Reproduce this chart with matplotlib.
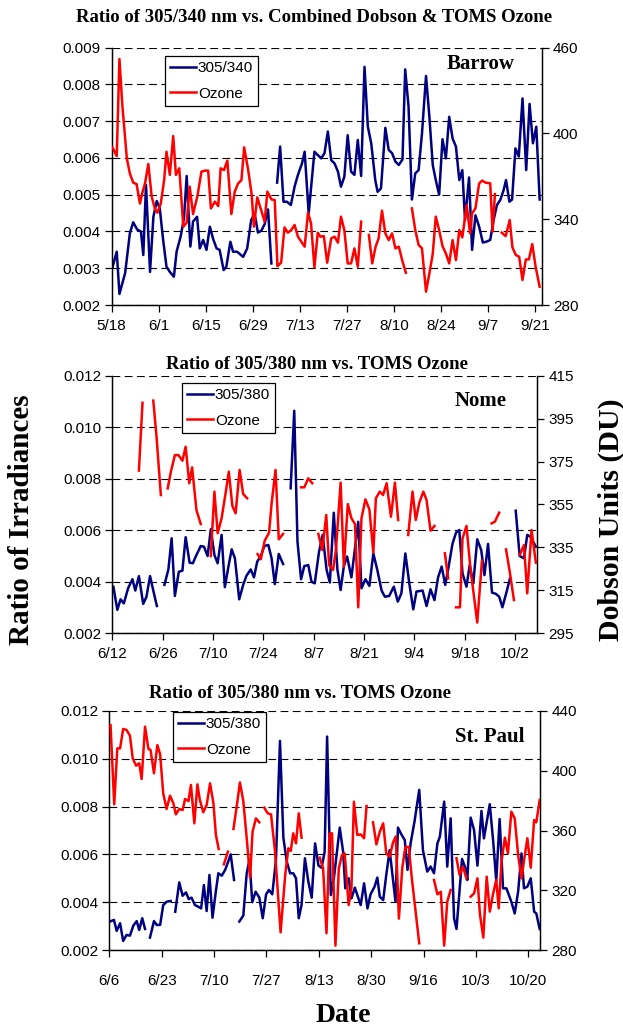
import numpy as np
import matplotlib
matplotlib.use('Agg')
import matplotlib.pyplot as plt

nan = np.nan
SERIF = 'Liberation Serif'
SANS = 'Liberation Sans'
NAVY = '#000080'
RED = '#ff0000'

plt.rcParams['font.family'] = SANS
plt.rcParams['font.size'] = 11

# ---------------- Barrow (days after 5/18) ----------------
barrow_ratio_day = [0.0, 1.5, 2.3, 4.0, 5.4, 6.4, 7.6, 8.7, 9.4, 10.2, 11.4, 12.4, 13.4, 14.3, 15.3, 16.3,
                    17.3, 18.5, 19.3, 20.5, 21.5, 22.3, 23.4, 24.2, 25.4, 26.2, 27.2, 28.2, 29.2, 30.2, 31.2,
                    32.1, 33.3, 34.1, 35.3, 36.1, 37.3, 39.1, 40.3, 41.5, 42.5, 43.5, 44.5, 45.5, 46.5, 47.5,
                    nan,
                    49.2, 50.1, 51.1, 52.1, 53.3, 54.4, 55.4, 56.6, 57.4, 58.6, 60.3, 61.3, 62.3, 63.3, 64.3,
                    65.3, 66.3, 67.3, 68.2, 69.2, 70.2, 71.2, 72.2, 73.2, 74.2, 75.2, 76.2, 77.2, 78.4, 79.1,
                    80.1, 81.4, 82.4, 83.4, 84.4, 85.4, 86.5, 87.3, 88.3, 89.3, 90.3, 91.3, 92.3, 93.5, 94.5,
                    95.5, 96.4, 97.4, 98.4, 99.4, 100.4, 101.4, 102.4, 103.4, 104.3, 105.1, 106.3, 107.2,
                    108.2, 109.3, 110.4, 111.4, 112.6, 113.6, 114.6, 115.6, 116.6, 117.3, 118.3, 119.1,
                    120.1, 121.1, 122.2, 123.3, 124.3, 125.3, 126.3, 127.3]
barrow_ratio = [0.00295, 0.00345, 0.0023, 0.00287, 0.00395, 0.00425, 0.00405, 0.0040, 0.00336, 0.00527,
                0.0029, 0.0044, 0.00483, 0.00463, 0.00377, 0.00304, 0.0029, 0.00277, 0.00345, 0.00386,
                0.00436, 0.00551, 0.00359, 0.00427, 0.0044, 0.00354, 0.00377, 0.0035, 0.00413, 0.00379,
                0.00354, 0.0035, 0.00295, 0.00304, 0.00372, 0.00345, 0.00345, 0.00331, 0.00354, 0.00431,
                0.00449, 0.00397, 0.00402, 0.0042, 0.0046, 0.00313,
                nan,
                0.00533, 0.00631, 0.00481, 0.00481, 0.00472, 0.00522, 0.00554, 0.00585, 0.00617, 0.00449,
                0.00617, 0.00608, 0.00599, 0.00613, 0.00672, 0.00594, 0.00585, 0.00563, 0.00522, 0.00549,
                0.00662, 0.00563, 0.00554, 0.00649, 0.00551, 0.00848, 0.00685, 0.0064, 0.0054, 0.00508,
                0.00517, 0.00682, 0.00622, 0.00613, 0.0059, 0.00581, 0.00596, 0.00841, 0.0074, 0.00487,
                0.00558, 0.00567, 0.00667, 0.00823, 0.00712, 0.00581, 0.0054, 0.005, 0.00651, 0.00599,
                0.00712, 0.00653, 0.00631, 0.0054, 0.00567, 0.00431, 0.00547, 0.0035, 0.00444, 0.00413,
                0.0037, 0.00372, 0.00377, 0.00431, 0.00472, 0.00486, 0.00513, 0.0054, 0.00481, 0.00487,
                0.00626, 0.00604, 0.00762, 0.00567, 0.00747, 0.0064, 0.00685, 0.00487]
barrow_ozone_day = [0.2, 1.5, 2.3, 3.2, 4.5, 5.4, 6.4, 7.4, 8.4, 9.2, 9.9, 10.9, 11.9, 12.9, 13.6, 14.6,
                    15.6, 16.3, 17.3, 18.3, 19.1, 20.1, 21.3, 22.3, 23.2, 24.2, 25.5, 26.7, 27.7, 28.7, 29.5,
                    30.7, 31.7, 32.4, 33.4, 34.4, 35.6, 36.6, 37.6, 38.6, 39.4, 40.6, 41.6, 42.3, 43.3, 44.5,
                    45.5, 46.3, 47.5, 48.5, 49.3, 50.4, 51.4, 52.4, 53.4, 54.4, 55.4, 56.4, 57.4, 58.4, 59.3,
                    60.3, 61.3, 62.1, 63.1, 64.1, 65.3, 66.3, 67.3, 68.2, 69.2, 70.2, 71.2, 72.2, 73.2, 74.2,
                    nan,
                    76.5, 77.5, 78.5, 79.4, 80.4, 81.4, 82.4, 83.4, 84.4, 85.4, 86.4, 87.5,
                    nan,
                    89.3, 90.3, 91.3, 92.3, 93.5, 94.5, 95.5, 96.4, 97.4, 98.4, 99.4, 100.4, 101.4, 102.4,
                    103.4, 104.3, 105.6, 106.6, 107.2, 108.2, 109.3, 110.2, 111.2, 112.6, 113.3, 114.0,
                    nan,
                    116.0, 117.2, 118.4, 119.2, 120.2, 121.2, 122.2, 123.2, 124.1, 125.1, 126.1, 127.3]
barrow_ozone = [390.3, 384.2, 452.1, 418.7, 382.6, 372, 365.6, 364.6, 351, 359.3, 365, 378.6, 355.8, 346.9,
                344.6, 351, 367.4, 387.2, 371, 398.2, 371, 375.6, 334.8, 337.6, 362.8, 343.6, 356.2, 373.3,
                374, 374, 347.6, 352.3, 349.2, 375.6, 374.4, 381, 343.6, 359.3, 365, 367.4, 390.3, 374.4,
                358, 334.8, 355.3, 346, 338.3, 359.3, 353.9, 353.4, 307.2, 309.6, 334.3, 330.6, 332.4, 336,
                327.8, 324.3, 320.8, 344.6, 337.1, 306.3, 330.6, 327.8, 328.2, 309.6, 326.6, 327.8, 323.6,
                341.8, 332.4, 309.1, 309.1, 319.6, 306.8, 338.3,
                nan,
                329, 309.1, 320.8, 326.6, 346, 330.1, 325.4, 330.1, 319.6, 320.8, 311.4, 302.6,
                nan,
                347.6, 332.4, 322, 319.6, 289.3, 302.1, 315.7, 341.8, 332.4, 321.2, 316.1, 309.1, 325.4,
                311.4, 332.4, 327.3, 349.9, 330.1, 344.1, 347.6, 365.1, 367, 365.6, 365.1, 331.3, 357.6,
                nan,
                330.6, 328.2, 339.4, 320.3, 315, 313.8, 297.5, 311.9, 311.9, 322.6, 306.8, 292.8]

# ---------------- Nome (days after 6/12) ----------------
nome_ratio_day = [0.3, 1.4, 2.3, 3.2, 4.4, 5.6, 6.4, 7.4, 8.6, 9.5, 10.5, 11.4, 12.4,
                  nan,
                  14.5, 15.6, 16.5, 17.4, 18.5, 19.5, 20.4, 21.5, 22.4, 23.4, 24.6, 25.5, 26.5, 27.4, 28.4,
                  29.3, 30.4, 31.3, 32.3, 33.2, 34.1, 35.3, 36.4, 37.3, 38.5, 39.4, 40.3, 41.3, 42.3, 43.4,
                  44.3, 45.2, 46.3, 47.5,
                  nan,
                  49.6, 50.6, 51.5, 52.5, 53.4, 54.5, 55.4, 56.3, 57.5, 58.5, 59.6, 60.5, 61.6, 62.6, 63.5,
                  64.4, 65.3, 66.5, 68.4, 69.3, 70.4, 71.5, 72.6, 73.7, 74.9, 75.8, 77.0, 78.3, 79.4, 80.4,
                  81.5, 82.6, 83.7, 84.6, 86.3, 87.4, 88.5, 89.6, 90.6, 91.6, 92.6, 93.7, 94.6, 95.6, 96.5,
                  97.4, 98.5, 99.4, 100.4, 101.5, 102.6, 103.5, 104.5, 105.6, 106.7, 107.6, 108.5, 109.6,
                  110.6,
                  nan,
                  112.2, 113.3, 114.5, 115.4, 116.3, 117.8]
nome_ratio = [0.00381, 0.00291, 0.00332, 0.00316, 0.00375, 0.0041, 0.00366, 0.00422, 0.00314, 0.00342,
              0.00422, 0.00366, 0.00306,
              nan,
              0.00388, 0.00448, 0.00569, 0.00345, 0.00439, 0.00443, 0.00573, 0.00474, 0.00472, 0.00504,
              0.00539, 0.00536, 0.005, 0.00604, 0.00504, 0.00472, 0.00582, 0.00379, 0.00459, 0.00526,
              0.00491, 0.00332, 0.00388, 0.00423, 0.00448, 0.00417, 0.00478, 0.005, 0.00539, 0.00543,
              0.00491, 0.00391, 0.00508, 0.00469,
              nan,
              0.00763, 0.01064, 0.00556, 0.0041, 0.00461, 0.00465, 0.004, 0.00394, 0.00517, 0.00582,
              0.00446, 0.00397, 0.00668, 0.00448, 0.00368, 0.00461, 0.00498, 0.00417, 0.00633, 0.00375,
              0.0041, 0.00384, 0.0051, 0.00446, 0.00366, 0.00342, 0.00345, 0.00381, 0.00323, 0.00355,
              0.0051, 0.00394, 0.00293, 0.00362, 0.00366, 0.00306, 0.00371, 0.00329, 0.00417, 0.00459,
              0.00388, 0.00472, 0.00547, 0.00591, 0.00601, 0.00433, 0.00381, 0.00465, 0.00394, 0.00565,
              0.00523, 0.00426, 0.00547, 0.00358, 0.00353, 0.00342, 0.00301, 0.00358, 0.00413,
              nan,
              0.00676, 0.005, 0.00491, 0.00582, 0.00575, 0.00536]
nome_ozone_day = [7.4, 8.4, nan, 11.4, 12.3, 13.5, nan,
                  15.4, 16.3, 17.4, 18.4, 19.5, 20.4, 21.4, 22.2, 23.4, 24.6, nan,
                  27.4, 28.4, 29.3, 30.4, 31.5, 32.4, 33.4, 34.3, 35.4, 36.4, 37.5, nan,
                  40.4, 41.3, 42.4, 43.6, 44.3, 45.4, 46.3, 47.5, nan,
                  52.5, 53.4, 54.5, 55.6, nan,
                  57.3, 58.4, 59.5, 60.3, 61.4, 62.2, 63.5, 64.4, 65.5, 66.5, 67.5, 68.4, 69.3, 70.4,
                  71.5, 72.6, 73.3, 74.4, 75.3, 76.3, 77.5, 78.6, 79.5, nan,
                  82.3, 83.5, 84.4, 85.4, 86.5, 87.4, 88.5, 89.6, nan,
                  92.5, 93.4, nan,
                  95.6, 96.7, 97.4, 98.5, 99.6, 101.5, 102.8, nan,
                  105.5, 106.4, 107.6, nan,
                  109.5, 110.6, 111.7, nan,
                  113.3, 114.5, 115.4, 116.6, 117.8]
nome_ozone = [370.8, 402.4, nan, 403.4, 386.6, 359.4, nan,
              362.5, 370.3, 378, 378, 375.4, 381.9, 364.9, 372.3, 352.4, 345.9, nan,
              331, 361, 341.6, 348.6, 360.2, 370.3, 354.3, 350.9, 371.1, 359.9, 357.9, nan,
              331.9, 329.5, 338.2, 341.9, 355.5, 371.1, 338.8, 341.3, nan,
              363, 363, 367.2, 364.9, nan,
              341.3, 333.8, 350.1, 326.8, 324.5, 333.8, 365.2, 326, 355.2, 348.6, 345.9, 307.1, 348.6,
              357.4, 352.7, 332.6, 357.9, 361, 359.4, 364.9, 349.3, 365.2, 347.8, nan,
              340.8, 361, 347.8, 355.9, 361, 357.1, 342.8, 345, nan,
              332.3, 320.6, nan,
              307.1, 307.1, 339.2, 345, 325.3, 300, 328.8, nan,
              346.2, 347, 351.2, nan,
              334.1, 323, 310.5, nan,
              331.5, 336.1, 313.6, 343.1, 327.9]

# ---------------- St. Paul (days after 6/6) ----------------
stpaul_ratio_day = [0.2, 1.5, 2.4, 3.5, 4.5, 5.6, 6.7, 7.8, 8.9, 9.7, 10.7, 11.6, nan,
                    13.2, 14.5, 15.4, 16.5, 17.5, 18.6, 19.9, nan,
                    21.4, 22.7, 23.8, 24.9, 25.8, 26.7, 27.8, 28.9, 29.8, 30.7, 31.6, 32.5, 33.5, 34.6,
                    35.4, 36.5, 37.6, 38.6, 39.4, 40.5, nan,
                    42.2, 43.5, 44.6, 45.5, 46.4, 47.5, 48.7, 49.8, 50.9, 51.8, 52.9, 54.1, 55.4, 56.5,
                    57.6, 58.7, 59.7, 60.6, 61.5, 62.4, 63.5, 64.6, 65.7, 66.8, 67.9, 68.9, 69.9, 70.7,
                    71.9, 72.9, 74.8, 75.9, 76.6, 77.7, 78.6, 79.7, 80.7, 81.6, 82.7, 83.8, 84.8, 86.1,
                    87.0, 87.8, 88.9, 89.9, 91.0, 92.1, 92.9, 93.7, 94.8, 95.9, 96.8, 97.8, 99.1, 100.6,
                    101.8, 103.2, 104.3, 105.4, 106.5, 107.3, 108.7, 109.7, 110.8, 111.9, 112.7, 113.7,
                    114.5, 115.6, 116.2, 117.3, 118.4, 119.5, 120.8, 121.6, 123.5, 124.6, 125.6, 126.7,
                    127.8, 128.9, 130.5, 131.6, 132.7, 133.8, 134.6, 135.7, 136.8, 137.9, 138.6, 139.7]
stpaul_ratio = [0.00319, 0.00326, 0.0028, 0.00312, 0.00238, 0.00263, 0.0026, 0.00302, 0.00321, 0.00284,
                0.00333, 0.00288, nan,
                0.00252, 0.00321, 0.00305, 0.00305, 0.00388, 0.00402, 0.00405, nan,
                0.0036, 0.00483, 0.00427, 0.00441, 0.00413, 0.00419, 0.00388, 0.00381, 0.00374, 0.00472,
                0.00363, 0.00514, 0.00335, 0.00447, 0.00521, 0.00511, 0.00535, 0.0057, 0.006, 0.00493, nan,
                0.00319, 0.00344, 0.00521, 0.00577, 0.004, 0.00444, 0.00419, 0.00333, 0.00433, 0.00451,
                0.00433, 0.00577, 0.01075, 0.0067, 0.0057, 0.00521, 0.00521, 0.005, 0.00333, 0.00388,
                0.00584, 0.00486, 0.00419, 0.00646, 0.00553, 0.00544, 0.00611, 0.01093, 0.0043, 0.005,
                0.00712, 0.00611, 0.00458, 0.005, 0.00416, 0.00461, 0.00423, 0.00388, 0.00479, 0.00374,
                0.00433, 0.00465, 0.00503, 0.00423, 0.00409, 0.00514, 0.00618, 0.00493, 0.00402, 0.00712,
                0.00684, 0.0066, 0.00535, 0.00646, 0.0074, 0.0087, 0.00618, 0.00528, 0.00549, 0.00521,
                0.00646, 0.00674, 0.00821, 0.00549, 0.00751, 0.00333, 0.00288, 0.00451, 0.00581, 0.00542,
                0.00493, 0.00754, 0.00702, 0.00553, 0.00782, 0.00667, 0.0081, 0.00656, 0.00489, 0.00748,
                0.00458, 0.00458, 0.00402, 0.00353, 0.00444, 0.00604, 0.00458, 0.00465, 0.005, 0.0036,
                0.00353, 0.00288]
stpaul_ozone_day = [0.4, 1.6, 2.6, 3.5, 4.5, 5.6, 6.7, 7.6, 8.7, 9.7, 10.5, 11.6, 12.7, 13.4, 14.5, 15.6,
                    16.5, 17.5, 18.6, 19.7, 20.8, 21.6, 22.7, 23.8, 24.6, 25.7, 26.5, 27.6, 28.6, 29.4,
                    30.5, 31.6, 32.7, 33.8, 34.6, 35.5, nan,
                    37.2, 38.5, nan,
                    40.3, 41.3, 42.4, 43.5, 44.6, 45.7, 46.5, 47.6, 48.7, nan,
                    50.3, 51.4, 52.5, 53.8, 55.6, 57.1, 58.1, 58.9, 59.7, 60.6, 61.5, 62.4, nan,
                    68.3, 69.4, 70.5, 71.5, 72.3, 73.4, 74.5, 75.5, 76.4, 77.7, 78.6, 79.4, 80.5, 81.6,
                    82.7, 83.5, nan,
                    85.6, 86.7, 87.8, 88.9, 89.9, 91.0, 92.1, 93.0, 94.0, 95.1, 96.1, 97.2, 98.2, 100.6, nan,
                    105.4, 106.5, 107.6, 108.7, 109.7, 110.8, nan,
                    112.7, 113.7, 114.8, 115.9, nan,
                    117.3, 118.4, 119.5, 120.3, 121.4, 122.5, 123.5, 124.6, 125.6, 126.4, 127.3, 128.4,
                    129.4, 130.5, 131.6, 132.7, 133.8, 134.6, 135.7, 136.8, 137.9, 138.6, 139.7]
stpaul_ozone = [430.6, 377.5, 415, 415, 428, 427.3, 423.5, 408.3, 403.4, 405, 394.5, 429.5, 414.6, 413.9,
                398.3, 417.2, 411, 384.9, 374.4, 383.3, 378.2, 370.8, 374.4, 373.7, 381.1, 379.7, 390.5,
                364.8, 390.9, 380.4, 372.2, 377.1, 391.6, 378.2, 357, 347.6, nan,
                337.4, 345.8, nan,
                361, 375.3, 392.2, 379.7, 354.8, 328.4, 359.2, 368.1, 365.5, nan,
                375.3, 371.5, 370.8, 345.8, 291.8, 330.2, 348.1, 346.3, 358.1, 351.4, 371.5, 355.2, nan,
                341.8, 334.7, 291.2, 358.1, 358.1, 282.9, 334.7, 343.6, 344.7, 310.1, 321.7, 379.3, 357,
                357.4, 354.8, 376.4, nan,
                365.5, 350.7, 359.2, 364.8, 344.7, 342.5, 352.1, 356, 301, 335, 349, 349, 328, 284.5, nan,
                326.9, 317.3, 319, 282.9, 312.4, 320.2, nan,
                341.4, 330.2, 335.8, 328, nan,
                315.7, 317.9, 328, 303.9, 288.3, 329.1, 305.7, 317.9, 326.9, 307.9, 339.1, 355.2, 344.7,
                372.6, 368.1, 343.6, 328, 339.6, 354.8, 335.1, 367, 365.5, 380.4]

# tick positions (days) and labels
barrow_xticks = [0, 14, 28, 42, 56, 70, 84, 98, 112, 126]
barrow_xlabels = ['5/18', '6/1', '6/15', '6/29', '7/13', '7/27', '8/10', '8/24', '9/7', '9/21']
nome_xticks = [0, 14, 28, 42, 56, 70, 84, 98, 112]
nome_xlabels = ['6/12', '6/26', '7/10', '7/24', '8/7', '8/21', '9/4', '9/18', '10/2']
stpaul_xticks = [0, 17, 34, 51, 68, 85, 102, 119, 136]
stpaul_xlabels = ['6/6', '6/23', '7/10', '7/27', '8/13', '8/30', '9/16', '10/3', '10/20']

W, H = 623, 1028
fig = plt.figure(figsize=(W / 100, H / 100), dpi=100)


def px_axes(x0, y0, x1, y1):
    # pixel box (top-left origin) -> figure axes
    return fig.add_axes([x0 / W, 1 - y1 / H, (x1 - x0) / W, (y1 - y0) / H])


panels = [
    dict(box=(111.7, 47.7, 542.0, 305.0), xlim=128, title='Ratio of 305/340 nm vs. Combined Dobson & TOMS Ozone',
         tpos=(314, 18), name='Barrow', npos=(481, 64), leg=(165, 56), lab='305/340',
         rd=barrow_ratio_day, r=barrow_ratio, od=barrow_ozone_day, o=barrow_ozone,
         xt=barrow_xticks, xl=barrow_xlabels, ylim=(0.002, 0.009), ystep=0.001,
         y2=(280, 460, 60), xpad=5),
    dict(box=(112.3, 375.7, 537.3, 633.3), xlim=118.2, title='Ratio of 305/380 nm vs. TOMS Ozone',
         tpos=(317, 364), name='Nome', npos=(481, 401), leg=(182, 383), lab='305/380',
         rd=nome_ratio_day, r=nome_ratio, od=nome_ozone_day, o=nome_ozone,
         xt=nome_xticks, xl=nome_xlabels, ylim=(0.002, 0.012), ystep=0.002,
         y2=(295, 415, 20), xpad=5),
    dict(box=(109.3, 711.0, 540.3, 950.0), xlim=139.9, title='Ratio of 305/380 nm vs. TOMS Ozone',
         tpos=(300, 693), name='St. Paul', npos=(490, 737), leg=(173, 712), lab='305/380',
         rd=stpaul_ratio_day, r=stpaul_ratio, od=stpaul_ozone_day, o=stpaul_ozone,
         xt=stpaul_xticks, xl=stpaul_xlabels, ylim=(0.002, 0.012), ystep=0.002,
         y2=(280, 440, 40), xpad=12),
]

for p in panels:
    ax = px_axes(*p['box'])
    ax2 = ax.twinx()
    l1, = ax.plot(p['rd'], p['r'], color=NAVY, lw=1.8, zorder=3)
    l2, = ax2.plot(p['od'], p['o'], color=RED, lw=1.8, zorder=3)

    ax.set_xlim(0, p['xlim'])
    ax.set_ylim(*p['ylim'])
    ax.set_yticks(np.arange(p['ylim'][0], p['ylim'][1] + 1e-9, p['ystep']))
    ax.yaxis.set_major_formatter(plt.FormatStrFormatter('%.3f'))
    ax.set_xticks(p['xt'])
    ax.set_xticklabels(p['xl'])
    lo, hi, st = p['y2']
    ax2.set_ylim(lo, hi)
    ax2.set_yticks(np.arange(lo, hi + 1, st))

    ax.grid(axis='y', color='black', lw=0.8, linestyle=(0, (7, 4)), zorder=0)
    ax.set_axisbelow(True)
    for a in (ax, ax2):
        a.spines['top'].set_visible(False)
        for s in ('left', 'right', 'bottom'):
            a.spines[s].set_linewidth(0.9)
    ax.tick_params(axis='both', direction='out', length=5, width=0.9, labelsize=11, pad=3)
    ax.tick_params(axis='x', pad=p['xpad'])
    ax2.tick_params(axis='y', direction='out', length=5, width=0.9, labelsize=11, pad=3)

    fig.text(p['tpos'][0] / W, 1 - p['tpos'][1] / H, p['title'], family=SERIF, weight='bold',
             fontsize=13.5, ha='center', va='center')
    fig.text(p['npos'][0] / W, 1 - p['npos'][1] / H, p['name'], family=SERIF, weight='bold',
             fontsize=15, ha='center', va='center')
    leg = ax2.legend([l1, l2], [p['lab'], 'Ozone'], loc='upper left',
                     bbox_to_anchor=(p['leg'][0] / W, 1 - p['leg'][1] / H), bbox_transform=fig.transFigure,
                     fancybox=False, framealpha=1, edgecolor='black', prop={'family': SANS, 'size': 11},
                     handlelength=1.65, handletextpad=0.15, borderpad=0.35, labelspacing=0.75,
                     borderaxespad=0)
    leg.get_frame().set_linewidth(0.9)

fig.text(22 / W, 1 - 520 / H, 'Ratio of Irradiances', family=SERIF, weight='bold', fontsize=21,
         rotation=90, ha='center', va='center')
fig.text(611 / W, 1 - 520 / H, 'Dobson Units (DU)', family=SERIF, weight='bold', fontsize=21.5,
         rotation=90, ha='center', va='center')
fig.text(343 / W, 1 - 1015 / H, 'Date', family=SERIF, weight='bold', fontsize=20,
         ha='center', va='center')

fig.savefig('out.png', dpi=100)
